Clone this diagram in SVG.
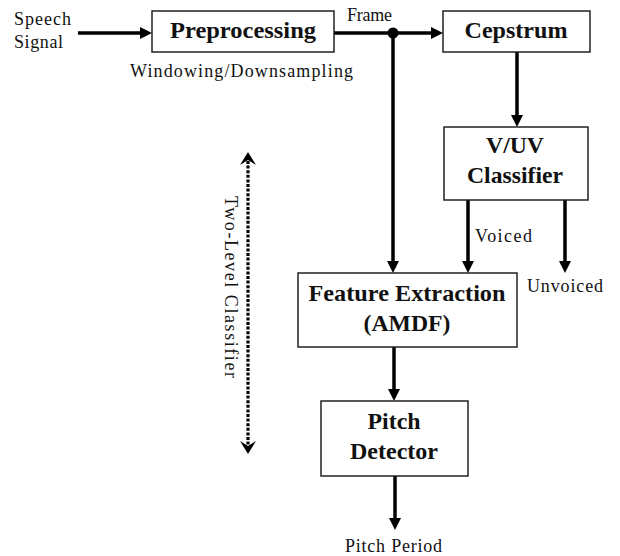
<svg xmlns="http://www.w3.org/2000/svg" width="620" height="556" viewBox="0 0 620 556">
<style>
.box{fill:#fff;stroke:#222;stroke-width:1.5}
.lbl{font-family:"Liberation Serif","Times New Roman",serif;font-weight:bold;font-size:23px;fill:#111;text-anchor:middle}
.txt{font-family:"Liberation Serif","Times New Roman",serif;font-size:18px;fill:#111}
.c{stroke:#000;stroke-width:3.5;fill:none}
.dot{stroke:#000;stroke-width:3.2;stroke-dasharray:3 1.6;fill:none}
</style>
<defs>
<marker id="ah" markerWidth="13" markerHeight="13" refX="4" refY="6" orient="auto" markerUnits="userSpaceOnUse">
<path d="M0,0 L12,6 L0,12 z" fill="#000"/>
</marker>
<marker id="ch" markerWidth="16" markerHeight="18" refX="4" refY="8" orient="auto-start-reverse" markerUnits="userSpaceOnUse">
<path d="M0,0 L13,8 L0,16 L5,8 z" fill="#000"/>
</marker>
</defs>
<rect width="620" height="556" fill="#fff"/>

<g id="connectors">
<line class="c" x1="78" y1="33" x2="144" y2="33" marker-end="url(#ah)"/>
<line class="c" x1="334" y1="33" x2="435" y2="33" marker-end="url(#ah)"/>
<circle cx="393" cy="33" r="5.5" fill="#000"/>
<line class="c" x1="393" y1="33" x2="393" y2="265" marker-end="url(#ah)"/>
<line class="c" x1="517" y1="52" x2="517" y2="119" marker-end="url(#ah)"/>
<line class="c" x1="468" y1="200" x2="468" y2="265" marker-end="url(#ah)"/>
<line class="c" x1="565" y1="200" x2="565" y2="265" marker-end="url(#ah)"/>
<line class="c" x1="394" y1="347" x2="394" y2="393" marker-end="url(#ah)"/>
<line class="c" x1="395" y1="476" x2="395" y2="522" marker-end="url(#ah)"/>
<line class="dot" x1="248" y1="161" x2="248" y2="445" marker-start="url(#ch)" marker-end="url(#ch)"/>
</g>

<g id="labels">
<text class="txt" x="14" y="25" textLength="57" lengthAdjust="spacing">Speech</text>
<text class="txt" x="14" y="48" textLength="49" lengthAdjust="spacing">Signal</text>
<text class="txt" x="130" y="77" textLength="223" lengthAdjust="spacing">Windowing/Downsampling</text>
<text class="txt" x="347" y="21" textLength="45" lengthAdjust="spacing">Frame</text>
<text class="txt" x="475" y="242" textLength="57" lengthAdjust="spacing">Voiced</text>
<text class="txt" x="527" y="292" textLength="76" lengthAdjust="spacing">Unvoiced</text>
<text class="txt" x="345" y="552" textLength="97" lengthAdjust="spacing">Pitch Period</text>
<text class="txt" transform="translate(225,196) rotate(90)" textLength="182" lengthAdjust="spacing">Two-Level Classifier</text>
</g>

<g id="preprocessing">
<rect class="box" x="152" y="11" width="182" height="41"/>
<text class="lbl" x="243" y="38" textLength="146" lengthAdjust="spacingAndGlyphs">Preprocessing</text>
</g>

<g id="cepstrum">
<rect class="box" x="443" y="11" width="147" height="41"/>
<text class="lbl" x="516" y="38" textLength="103" lengthAdjust="spacingAndGlyphs">Cepstrum</text>
</g>

<g id="vuv-classifier">
<rect class="box" x="444" y="127" width="144" height="73"/>
<text class="lbl" x="515" y="153" textLength="58" lengthAdjust="spacingAndGlyphs">V/UV</text>
<text class="lbl" x="515" y="183" textLength="96" lengthAdjust="spacingAndGlyphs">Classifier</text>
</g>

<g id="feature-extraction">
<rect class="box" x="298" y="273" width="219" height="74"/>
<text class="lbl" x="407" y="301" textLength="197" lengthAdjust="spacingAndGlyphs">Feature Extraction</text>
<text class="lbl" x="407" y="331" textLength="87" lengthAdjust="spacingAndGlyphs">(AMDF)</text>
</g>

<g id="pitch-detector">
<rect class="box" x="321" y="401" width="147" height="75"/>
<text class="lbl" x="394" y="429" textLength="53" lengthAdjust="spacingAndGlyphs">Pitch</text>
<text class="lbl" x="394" y="459" textLength="88" lengthAdjust="spacingAndGlyphs">Detector</text>
</g>
</svg>
